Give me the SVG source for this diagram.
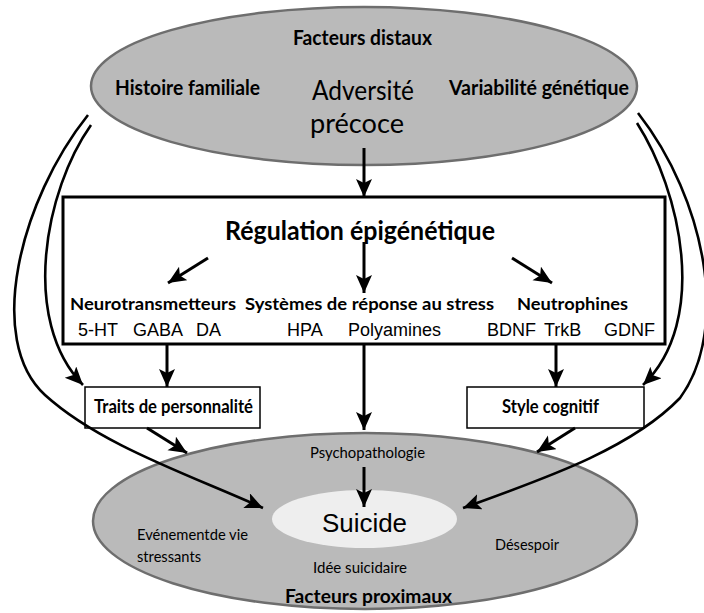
<svg xmlns="http://www.w3.org/2000/svg" width="704" height="613" viewBox="0 0 704 613">
<defs>
<marker id="ah" markerUnits="userSpaceOnUse" markerWidth="20" markerHeight="18" refX="18" refY="8" orient="auto" viewBox="0 0 20 18">
<path d="M0,0 L18,8 L0,16 L4,8 z" fill="#000"/>
</marker>
<style>
.ell{fill:#bababa;stroke:#6e6e6e;stroke-width:2.5}
.inner{fill:#eeeeee;stroke:none}
.frame{fill:#fff;stroke:#000;stroke-width:3}
.box{fill:#fff;stroke:#000;stroke-width:1.5}
.c{font-family:Lato,"Open Sans",sans-serif;fill:#000}
.b{font-weight:bold}
.a{font-family:"Liberation Sans",Arial,sans-serif;fill:#000}
.ln{fill:none;stroke:#000;stroke-width:3;marker-end:url(#ah)}
.cv{fill:none;stroke:#000;stroke-width:2.6;marker-end:url(#ah)}
</style>
</defs>
<rect width="704" height="613" fill="#fff"/>

<g id="distal">
<ellipse class="ell" cx="364" cy="86" rx="273" ry="79"/>
<text class="c b" x="293" y="45" font-size="20" textLength="139" lengthAdjust="spacingAndGlyphs">Facteurs distaux</text>
<text class="c b" x="115" y="95" font-size="20" textLength="145" lengthAdjust="spacingAndGlyphs">Histoire familiale</text>
<text class="c" x="312" y="100" font-size="27" textLength="102" lengthAdjust="spacingAndGlyphs">Adversité</text>
<text class="c" x="310" y="133" font-size="27" textLength="94" lengthAdjust="spacingAndGlyphs">précoce</text>
<text class="c b" x="449" y="95" font-size="20" textLength="180" lengthAdjust="spacingAndGlyphs">Variabilité génétique</text>
</g>

<g id="epigenetic">
<rect class="frame" x="63" y="197" width="602" height="147"/>
<text class="c b" x="225" y="240" font-size="27" textLength="270" lengthAdjust="spacingAndGlyphs">Régulation épigénétique</text>
<text class="c b" x="70" y="310" font-size="17" textLength="166" lengthAdjust="spacingAndGlyphs">Neurotransmetteurs</text>
<text class="c b" x="245" y="310" font-size="17" textLength="249" lengthAdjust="spacingAndGlyphs">Systèmes de réponse au stress</text>
<text class="c b" x="517" y="310" font-size="17" textLength="111" lengthAdjust="spacingAndGlyphs">Neutrophines</text>
<text class="a" x="78" y="336" font-size="18">5-HT</text>
<text class="a" x="133" y="336" font-size="18">GABA</text>
<text class="a" x="196" y="336" font-size="18">DA</text>
<text class="a" x="287" y="336" font-size="18">HPA</text>
<text class="a" x="348" y="336" font-size="18">Polyamines</text>
<text class="a" x="487" y="336" font-size="18">BDNF</text>
<text class="a" x="544" y="336" font-size="18">TrkB</text>
<text class="a" x="604" y="336" font-size="18">GDNF</text>
</g>

<g id="traits">
<rect class="box" x="85" y="387" width="175" height="41"/>
<text class="c b" x="94" y="413" font-size="18" textLength="159" lengthAdjust="spacingAndGlyphs">Traits de personnalité</text>
</g>

<g id="style">
<rect class="box" x="467" y="387" width="177" height="41"/>
<text class="c b" x="502" y="413" font-size="18" textLength="97" lengthAdjust="spacingAndGlyphs">Style cognitif</text>
</g>

<g id="proximal">
<ellipse class="ell" cx="365" cy="521" rx="272" ry="88"/>
<text class="c" x="310" y="458" font-size="15" textLength="115" lengthAdjust="spacingAndGlyphs">Psychopathologie</text>
<text class="c" x="137" y="540" font-size="15" textLength="111" lengthAdjust="spacingAndGlyphs">Evénementde vie</text>
<text class="c" x="137" y="562" font-size="15" textLength="64" lengthAdjust="spacingAndGlyphs">stressants</text>
<text class="c" x="313" y="573" font-size="15" textLength="94" lengthAdjust="spacingAndGlyphs">Idée suicidaire</text>
<text class="c" x="495" y="550" font-size="15" textLength="64" lengthAdjust="spacingAndGlyphs">Désespoir</text>
<text class="c b" x="285" y="603" font-size="18" textLength="167" lengthAdjust="spacingAndGlyphs">Facteurs proximaux</text>
</g>

<g id="suicide">
<ellipse class="inner" cx="364.5" cy="519" rx="92.5" ry="29"/>
<text class="a" x="322" y="532" font-size="26" textLength="85" lengthAdjust="spacingAndGlyphs">Suicide</text>
</g>

<g id="connectors">
<line class="ln" x1="364" y1="148" x2="364" y2="197"/>
<line class="ln" x1="208" y1="258" x2="168" y2="283"/>
<line class="ln" x1="364" y1="242" x2="364" y2="293"/>
<line class="ln" x1="512" y1="258" x2="552" y2="283"/>
<line class="ln" x1="167" y1="344" x2="167" y2="387"/>
<line class="ln" x1="364" y1="344" x2="364" y2="430"/>
<line class="ln" x1="556" y1="344" x2="556" y2="387"/>
<line class="ln" x1="147" y1="428" x2="187" y2="453"/>
<line class="ln" x1="575" y1="428" x2="537" y2="452"/>
<line class="ln" x1="364" y1="467" x2="364" y2="507"/>
<path class="cv" d="M88,115 C20,200 -15,340 45,395 C100,445 190,475 263,508"/>
<path class="cv" d="M91,125 C45,190 20,320 83,385"/>
<path class="cv" d="M638,113 C706,200 730,330 680,398 C630,450 540,480 463,508"/>
<path class="cv" d="M637,123 C680,190 710,320 643,385"/>
</g>
</svg>
